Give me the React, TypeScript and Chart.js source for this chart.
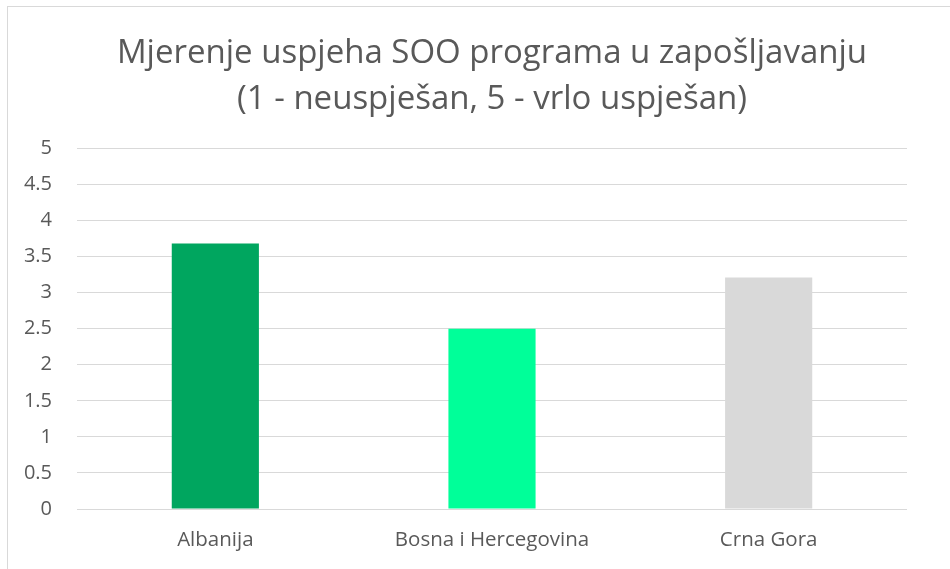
import React, { useEffect, useRef } from "react";
import { Chart, registerables } from "chart.js";

Chart.register(...registerables);

const categories = ["Albanija", "Bosna i Hercegovina", "Crna Gora"];
const values = [3.68, 2.5, 3.21];
const barColors = ["#00A65F", "#00FF99", "#D9D9D9"];
const titleLines = [
  "Mjerenje uspjeha SOO programa u zapošljavanju",
  "(1 - neuspješan, 5 - vrlo uspješan)",
];
const yMin = 0;
const yMax = 5;
const yStep = 0.5;

export default function App() {
  const canvasRef = useRef<HTMLCanvasElement | null>(null);

  useEffect(() => {
    const canvas = canvasRef.current;
    if (!canvas) return;
    const font = "'Open Sans', 'Noto Sans', sans-serif";
    const chart = new Chart(canvas, {
      type: "bar",
      data: {
        labels: categories,
        datasets: [
          {
            data: values,
            backgroundColor: barColors,
            borderWidth: 0,
            categoryPercentage: 1,
            barPercentage: 0.315,
          },
        ],
      },
      options: {
        animation: false,
        responsive: false,
        maintainAspectRatio: false,
        layout: { padding: { left: 20, right: 43, top: 0, bottom: 17 } },
        plugins: {
          legend: { display: false },
          tooltip: { enabled: false },
          title: {
            display: true,
            text: titleLines,
            fullSize: false,
            color: "#595959",
            font: { family: font, size: 33, weight: "normal", lineHeight: 1.4 },
            padding: { top: 30, bottom: 26 },
          },
        },
        scales: {
          x: {
            afterFit: (scale: any) => {
              scale.height = 43;
            },
            grid: { display: false, drawTicks: false },
            border: { display: false },
            ticks: {
              color: "#595959",
              font: { family: font, size: 20.5 },
              padding: 19,
              maxRotation: 0,
            },
          },
          y: {
            min: yMin,
            max: yMax,
            afterFit: (scale: any) => {
              scale.width = 57;
            },
            grid: { color: "#D9D9D9", lineWidth: 1, drawTicks: false },
            border: { display: false },
            ticks: {
              stepSize: yStep,
              color: "#595959",
              font: { family: font, size: 20 },
              padding: 25,
              callback: (v: any) => String(Number(v)),
            },
          },
        },
      },
    });
    return () => chart.destroy();
  }, []);

  return (
    <div
      style={{
        position: "absolute",
        left: 0,
        top: 0,
        width: 950,
        height: 569,
        overflow: "hidden",
        background: "#ffffff",
      }}
    >
      <div
        style={{
          position: "absolute",
          left: 7,
          top: 6,
          width: 1000,
          height: 700,
          borderTop: "1px solid #D9D9D9",
          borderLeft: "1px solid #D9D9D9",
        }}
      />
      <canvas
        ref={canvasRef}
        width={950}
        height={569}
        style={{ position: "absolute", left: 0, top: 0, width: 950, height: 569 }}
      />
    </div>
  );
}
